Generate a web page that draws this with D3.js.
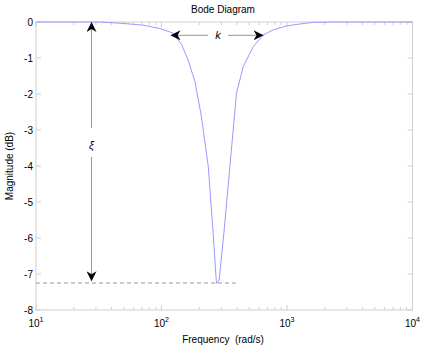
<!DOCTYPE html>
<html><head><meta charset="utf-8">
<script src="https://cdn.jsdelivr.net/npm/d3@7"></script>
<style>body{margin:0;background:#fff}svg{display:block}text{font-family:Arial,"Liberation Sans",sans-serif;fill:#000}</style>
</head><body><svg id="c" width="425" height="354"></svg>
<script>
const freq = [10, 32, 50, 72, 97, 124, 145, 163, 185, 208, 236, 258, 274, 288, 314, 351, 396, 448, 537, 646, 776, 990, 1260, 1620, 2340, 10000];
const magDb = [0, 0, -0.04, -0.09, -0.18, -0.31, -0.63, -1.06, -1.66, -2.63, -4.02, -5.87, -7.26, -7.17, -5.87, -4.0, -1.98, -1.24, -0.69, -0.36, -0.22, -0.11, -0.056, -0.01, 0, 0];
const yTicks = [0, -1, -2, -3, -4, -5, -6, -7, -8];
const xTicks = [10, 100, 1000, 10000];
const notchDepth = -7.25, dashEnd = 390, xiFreq = 27.7, kLeft = 118, kRight = 650, kLevel = -0.37;

const svg = d3.select("#c");
const L = 36, R = 412.5, T = 22, B = 310;
const x = d3.scaleLog().domain([10, 10000]).range([L, R]);
const y = d3.scaleLinear().domain([-8, 0]).range([B, T]);
const frame = "#cfcfcf";

const defs = svg.append("defs");
const mk = defs.append("marker").attr("id","ah").attr("viewBox","0 0 10 10").attr("refX",10).attr("refY",5)
  .attr("markerWidth",10).attr("markerHeight",10).attr("markerUnits","userSpaceOnUse").attr("orient","auto-start-reverse");
mk.append("path").attr("d","M0,0 L10,5 L0,10 L3,5 Z").attr("fill","#000");

svg.append("rect").attr("x",L).attr("y",T).attr("width",R-L).attr("height",B-T).attr("fill","none").attr("stroke",frame).attr("stroke-width",1);

const minor = [];
for (let d = 10; d < 10000; d *= 10) for (let m = 2; m <= 9; m++) minor.push(d*m);
[[B,-1],[T,1]].forEach(([yy,dir])=>{
  minor.forEach(v=>svg.append("line").attr("x1",x(v)).attr("x2",x(v)).attr("y1",yy).attr("y2",yy+dir*3).attr("stroke",frame));
  xTicks.forEach(v=>svg.append("line").attr("x1",x(v)).attr("x2",x(v)).attr("y1",yy).attr("y2",yy+dir*5).attr("stroke",frame));
});
yTicks.forEach(v=>{
  svg.append("line").attr("x1",L).attr("x2",L+5).attr("y1",y(v)).attr("y2",y(v)).attr("stroke",frame);
  svg.append("line").attr("x1",R).attr("x2",R-5).attr("y1",y(v)).attr("y2",y(v)).attr("stroke",frame);
});
const ya = d3.axisLeft(y).tickValues(yTicks).tickSize(0).tickPadding(3).tickFormat(d=>d3.format("d")(d).replace("−","-"));
const gY = svg.append("g").attr("transform",`translate(${L},0)`).call(ya);
gY.select(".domain").remove();
gY.selectAll("text").attr("font-size","10px").attr("fill","#000").attr("font-family","Arial, 'Liberation Sans', sans-serif");
const gX = svg.append("g").attr("transform",`translate(0,${B})`).call(d3.axisBottom(x).tickValues(xTicks).tickSize(0).tickFormat(()=>""));
gX.select(".domain").remove(); gX.selectAll("text").remove();
xTicks.forEach(v=>{
  const t = svg.append("text").attr("x",x(v)).attr("y",B+17).attr("text-anchor","middle").attr("font-size","10px");
  t.append("tspan").text("10");
  t.append("tspan").attr("dy",-5).attr("font-size","7px").text(Math.round(Math.log10(v)));
});

svg.append("line").attr("x1",x(10)).attr("x2",x(dashEnd)).attr("y1",y(notchDepth)).attr("y2",y(notchDepth))
  .attr("stroke","#999").attr("stroke-dasharray","4,3").attr("stroke-width",1);

const line = d3.line().x((d,i)=>x(freq[i])).y((d,i)=>y(magDb[i]));
svg.append("path").datum(magDb).attr("d",line).attr("fill","none").attr("stroke","#9999ff").attr("stroke-width",1);

const xx = x(xiFreq);
svg.append("line").attr("x1",xx).attr("x2",xx).attr("y1",y(-2.95)).attr("y2",y(0)).attr("stroke","#999").attr("marker-end","url(#ah)");
svg.append("line").attr("x1",xx).attr("x2",xx).attr("y1",y(-3.75)).attr("y2",y(-7.2)).attr("stroke","#999").attr("marker-end","url(#ah)");
svg.append("text").attr("x",xx).attr("y",y(-3.42)+4).attr("text-anchor","middle").attr("font-size","11px").attr("font-style","italic").text("ξ");

const ky = y(kLevel), kMid = x(Math.sqrt(kLeft*kRight));
svg.append("line").attr("x1",kMid-9).attr("x2",x(kLeft)).attr("y1",ky).attr("y2",ky).attr("stroke","#999").attr("marker-end","url(#ah)");
svg.append("line").attr("x1",kMid+11).attr("x2",x(kRight)).attr("y1",ky).attr("y2",ky).attr("stroke","#999").attr("marker-end","url(#ah)");
svg.append("text").attr("x",kMid+1).attr("y",ky+4).attr("text-anchor","middle").attr("font-size","11px").attr("font-style","italic").text("k");

svg.append("text").attr("x",223).attr("y",13).attr("text-anchor","middle").attr("font-size","10px").text("Bode Diagram");
svg.append("text").attr("x",223).attr("y",343).attr("text-anchor","middle").attr("font-size","10px").attr("xml:space","preserve").text("Frequency  (rad/s)");
svg.append("text").attr("transform","translate(13,166) rotate(-90)").attr("text-anchor","middle").attr("font-size","10px").text("Magnitude (dB)");
</script></body></html>
